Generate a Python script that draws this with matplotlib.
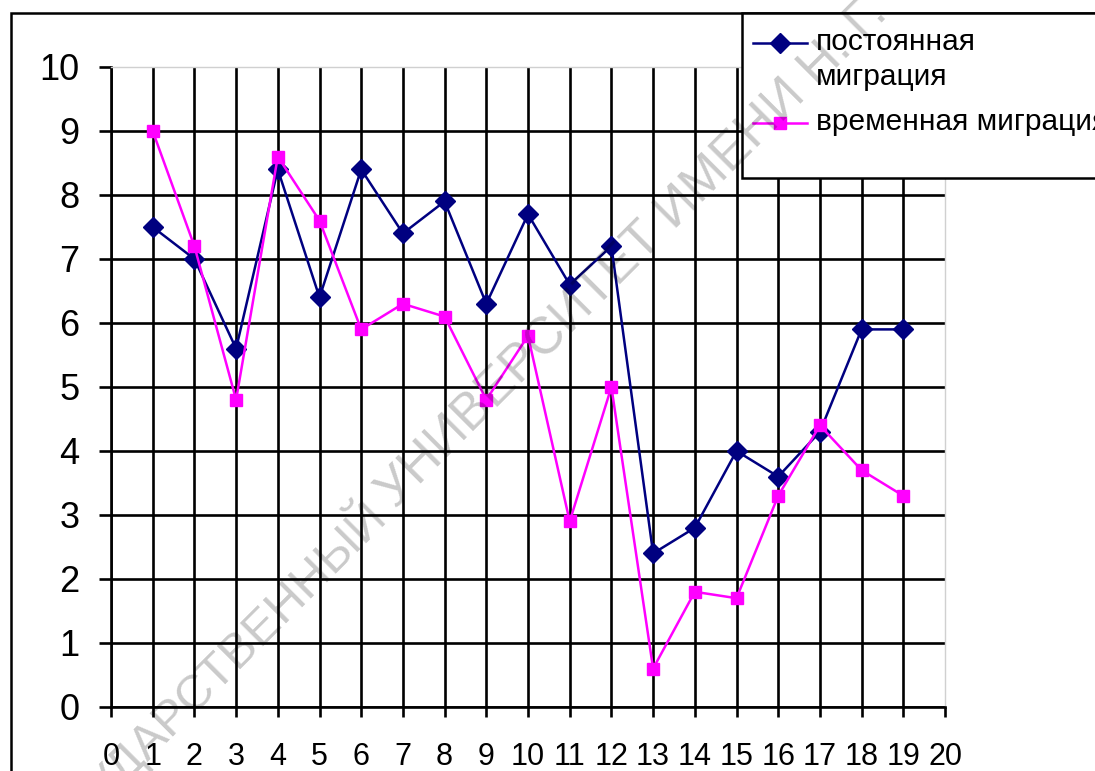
import matplotlib
matplotlib.use("Agg")
import matplotlib.pyplot as plt
from matplotlib.lines import Line2D
from matplotlib.patches import Rectangle

plt.rcParams['font.family'] = ['Liberation Sans', 'DejaVu Sans']

# DATA
x = list(range(1, 20))
postoyannaya = [7.5, 7.0, 5.6, 8.4, 6.4, 8.4, 7.4, 7.9, 6.3, 7.7,
                6.6, 7.2, 2.4, 2.8, 4.0, 3.6, 4.3, 5.9, 5.9]
vremennaya = [9.0, 7.2, 4.8, 8.6, 7.6, 5.9, 6.3, 6.1, 4.8, 5.8,
              2.9, 5.0, 0.6, 1.8, 1.7, 3.3, 4.4, 3.7, 3.3]
label_post = ["постоянная", "миграция"]
label_vrem = "временная миграция"
x_ticks = list(range(0, 21))
y_ticks = list(range(0, 11))
watermark_left = "ГОСУДАРСТВЕННЫЙ"
watermark_right = "УНИВЕРСИТЕТ ИМЕНИ Н. Г. ЧЕРНЫШЕВСКОГО"

W, H = 1095, 771
fig = plt.figure(figsize=(W / 100, H / 100), dpi=100)

def fx(px):
    return px / W

def fy(py):
    return 1 - py / H

# plot area
ax = fig.add_axes([fx(111), fy(707), fx(945) - fx(111), fy(67) - fy(707)])
ax.patch.set_visible(False)

ax.plot(x, postoyannaya, color='#000080', lw=1.8, marker='D', ms=10, zorder=3)
ax.plot(x, vremennaya, color='#FF00FF', lw=1.8, marker='s', ms=8.5, zorder=4)

ax.set_xlim(0, 20)
ax.set_ylim(0, 10)
ax.set_xticks(x_ticks)
ax.set_yticks(y_ticks)
ax.grid(True, color='black', lw=1.9)
ax.get_xgridlines()[-1].set_visible(False)
ax.get_ygridlines()[-1].set_visible(False)

for s in ['left', 'bottom']:
    ax.spines[s].set_linewidth(1.9)
for s in ['top', 'right']:
    ax.spines[s].set_color('#d0d0d0')
    ax.spines[s].set_linewidth(1)

ax.tick_params(axis='y', length=8.6, width=1.9, pad=14, labelsize=26)
ax.tick_params(axis='x', length=7.2, width=1.9, pad=18, labelsize=22)

# outer chart frame (runs off the picture on the right and bottom)
fig.patches.append(Rectangle((fx(11), -0.2), 1.3, fy(13) + 0.2, transform=fig.transFigure,
                             fill=False, edgecolor='black', lw=1.8, clip_on=False, zorder=1))

# legend box
fig.patches.append(Rectangle((fx(742), fy(178)), 0.5, fy(13) - fy(178), transform=fig.transFigure,
                             facecolor='white', edgecolor='black', lw=1.8, clip_on=False, zorder=5))
for yy, col, mk, ms in [(43, '#000080', 'D', 10), (123, '#FF00FF', 's', 8.5)]:
    fig.lines.append(Line2D([fx(753), fx(807)], [fy(yy), fy(yy)], transform=fig.transFigure,
                            color=col, lw=1.8, zorder=6))
    fig.lines.append(Line2D([fx(780)], [fy(yy)], transform=fig.transFigure, color=col,
                            marker=mk, ms=ms, lw=0, zorder=6))
fig.text(fx(816), fy(50), label_post[0], fontsize=21.5, va='baseline', zorder=6)
fig.text(fx(816), fy(85), label_post[1], fontsize=21.5, va='baseline', zorder=6)
fig.text(fx(816), fy(130), label_vrem, fontsize=21.5, va='baseline', zorder=6)

# diagonal watermark
fig.text(fx(396), fy(510), watermark_right, fontsize=37, rotation=45, rotation_mode='anchor',
         ha='left', va='baseline', color='black', alpha=0.21, zorder=10)
fig.text(fx(388), fy(518), watermark_left, fontsize=35, rotation=45, rotation_mode='anchor',
         ha='right', va='baseline', color='black', alpha=0.21, zorder=10)

fig.savefig("out.png", dpi=100)
